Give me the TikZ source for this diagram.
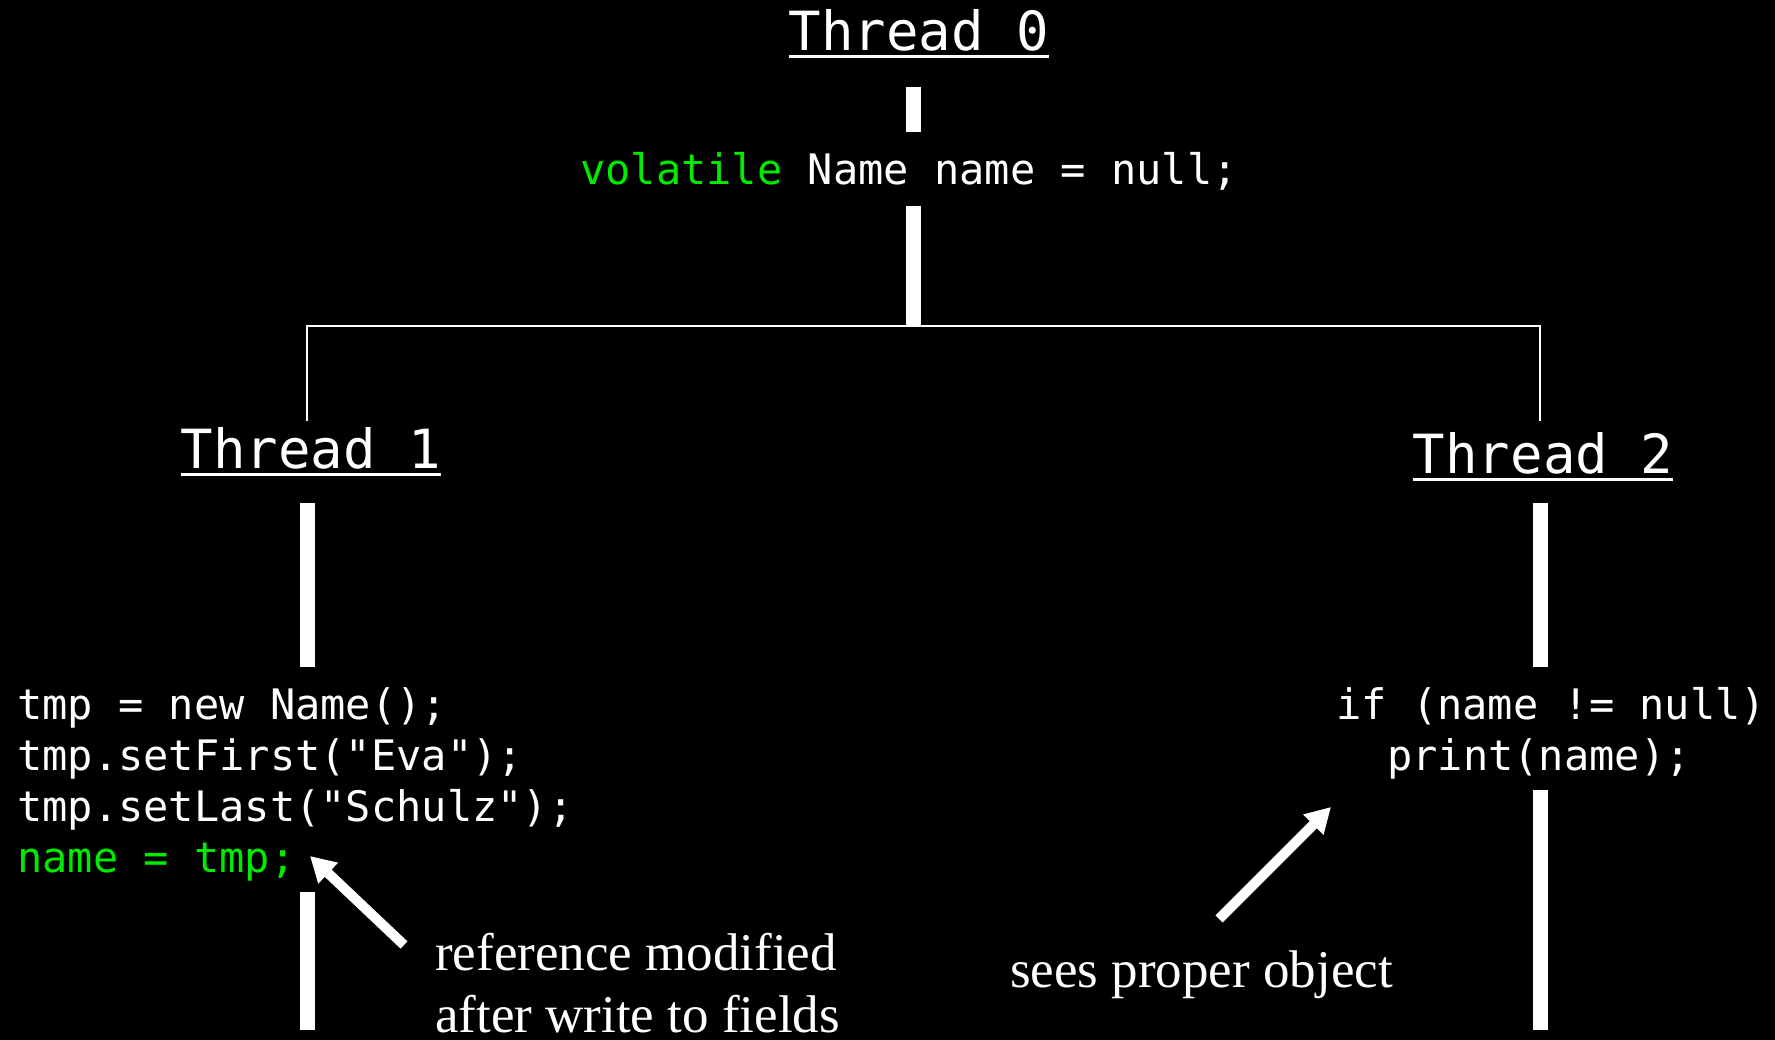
\documentclass[tikz,border=0pt]{standalone}
\usepackage{fontspec}
\setmainfont{Liberation Serif}
\setmonofont{DejaVu Sans Mono}
\usetikzlibrary{arrows.meta}
\definecolor{kwgreen}{RGB}{0,235,0}

\tikzset{
  head/.style={font=\ttfamily\fontsize{54}{54}\selectfont, text=white, inner sep=0pt, anchor=base},
  code/.style={font=\ttfamily\fontsize{42}{51}\selectfont, text=white, inner sep=0pt, anchor=base west},
  note/.style={font=\rmfamily\fontsize{53}{62}\selectfont, text=white, inner sep=0pt, anchor=base west},
  lifeline/.style={white, line width=15pt},
  fork/.style={white, line width=2.5pt},
  underl/.style={white, line width=3pt},
  pointer/.style={white, line width=10pt, -{Triangle[width=27pt,length=25pt]}}
}

\begin{document}
\begin{tikzpicture}[x=1pt, y=-1pt]
  \fill[black] (0,0) rectangle (1775,1040);
  \useasboundingbox (0,0) rectangle (1775,1040);

  % thread headings
  \node[head] (t0) at (919,51) {Thread 0};
  \node[head] (t1) at (311,468) {Thread 1};
  \node[head] (t2) at (1543,473) {Thread 2};
  \foreach \t in {t0,t1,t2}
    \draw[underl] ([yshift=-6pt]\t.base west) -- ([yshift=-6pt]\t.base east);

  % shared declaration
  \node[code] (decl) at (580,185) {\textcolor{kwgreen}{volatile} Name name = null;};

  % thread 1 code
  \node[code] (c1) at (17,719) {tmp = new Name();};
  \node[code] (c2) at (17,770) {tmp.setFirst("Eva");};
  \node[code] (c3) at (17,821) {tmp.setLast("Schulz");};
  \node[code, text=kwgreen] (c4) at (17,872) {name = tmp;};

  % thread 2 code
  \node[code] (d1) at (1336,719) {if (name != null)};
  \node[code] (d2) at (1387,770) {print(name);};

  % notes
  \node[note] (n1) at (435,970) {reference modified};
  \node[note] (n2) at (435,1032) {after write to fields};
  \node[note] (n3) at (1010,987) {sees proper object};

  % lifeline segments
  \coordinate (a0) at (913,87);   \coordinate (a1) at (913,132);
  \coordinate (a2) at (913,206);  \coordinate (a3) at (913,326);
  \coordinate (l0) at (307,503);  \coordinate (l1) at (307,667);
  \coordinate (l2) at (307,892);  \coordinate (l3) at (307,1030);
  \coordinate (r0) at (1540,503); \coordinate (r1) at (1540,667);
  \coordinate (r2) at (1540,790); \coordinate (r3) at (1540,1030);
  \draw[lifeline] (a0) -- (a1);
  \draw[lifeline] (a2) -- (a3);
  \draw[lifeline] (l0) -- (l1);
  \draw[lifeline] (l2) -- (l3);
  \draw[lifeline] (r0) -- (r1);
  \draw[lifeline] (r2) -- (r3);

  % fork into two threads
  \coordinate (fl) at (307,421);
  \coordinate (fr) at (1540,421);
  \draw[fork] (fl) |- (a3) -| (fr);

  % pointers from the notes
  \coordinate (p1s) at (404,945); \coordinate (p1e) at (310,856);
  \coordinate (p2s) at (1219,919); \coordinate (p2e) at (1331,807);
  \draw[pointer] (p1s) -- (p1e);
  \draw[pointer] (p2s) -- (p2e);
\end{tikzpicture}
\end{document}
